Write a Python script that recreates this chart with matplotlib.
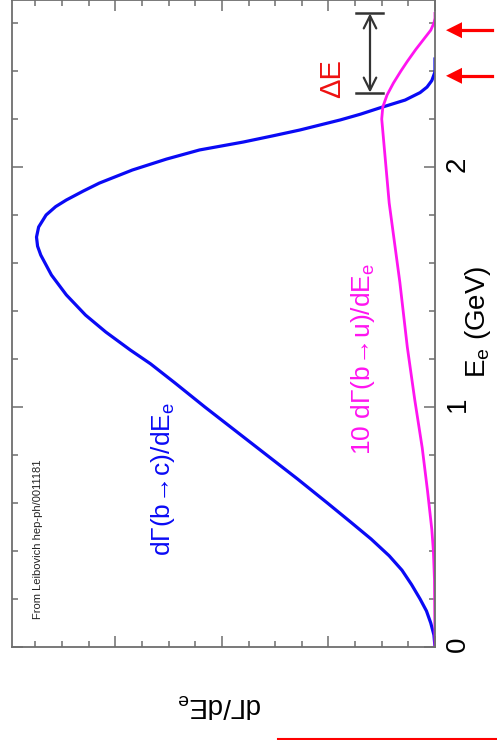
import matplotlib
matplotlib.use("Agg")
import matplotlib.pyplot as plt
from matplotlib.lines import Line2D
from matplotlib.patches import Polygon
from matplotlib.ticker import MultipleLocator, FixedLocator

plt.rcParams["font.family"] = ["Liberation Sans", "DejaVu Sans"]
plt.rcParams["mathtext.fontset"] = "custom"
plt.rcParams["mathtext.rm"] = "Liberation Sans"

# electron energy spectrum, b -> c
e_bc = [0.00, 0.05, 0.10, 0.15, 0.20, 0.26, 0.32, 0.38, 0.45, 0.52, 0.60, 0.70,
        0.80, 0.90, 1.00, 1.10, 1.18, 1.2375, 1.3125, 1.383, 1.467, 1.55, 1.633,
        1.67, 1.708, 1.75, 1.80, 1.835, 1.8625, 1.90, 1.933, 1.9875, 2.033, 2.071,
        2.104, 2.13, 2.154, 2.175, 2.196, 2.22, 2.246, 2.279, 2.31, 2.333, 2.36,
        2.396, 2.45]
rate_bc = [0.00, 0.01, 0.04, 0.08, 0.14, 0.22, 0.31, 0.43, 0.60, 0.79, 1.01, 1.29,
           1.58, 1.87, 2.16, 2.44, 2.67, 2.86, 3.09, 3.28, 3.46, 3.60, 3.70,
           3.73, 3.74, 3.72, 3.65, 3.56, 3.46, 3.30, 3.15, 2.84, 2.52, 2.21,
           1.80, 1.52, 1.27, 1.08, 0.89, 0.70, 0.52, 0.28, 0.14, 0.075, 0.03,
           0.0, 0.0]

# b -> u spectrum, scaled by 10
e_bu = [0.00, 0.28, 0.40, 0.49, 0.65, 0.83, 1.03, 1.25, 1.52, 1.85, 2.00, 2.10,
        2.20, 2.25, 2.30, 2.35, 2.40, 2.44, 2.49, 2.53, 2.57, 2.60, 2.62, 2.64]
rate_bu = [0.00, 0.005, 0.015, 0.03, 0.07, 0.12, 0.19, 0.26, 0.33, 0.43, 0.46, 0.48,
           0.50, 0.49, 0.45, 0.39, 0.32, 0.26, 0.18, 0.11, 0.04, 0.01, 0.0, 0.0]

e_ticks = [0, 1, 2]
e_tick_labels = ["0", "1", "2"]
delta_e = (2.31, 2.64)
endpoints = (2.57, 2.38)

W, H = 497, 740
fig = plt.figure(figsize=(W / 100, H / 100), dpi=100)
ax = fig.add_axes([12 / W, 93 / H, 423 / W, 647 / H])

ax.plot(rate_bc, e_bc, color="#0a0af5", lw=2.3, solid_joinstyle="round")
ax.plot(rate_bu, e_bu, color="#ff14f0", lw=2.0, solid_joinstyle="round")

ax.set_xlim(3.97, 0)
ax.set_ylim(0, 647 / 240)

for s in ax.spines.values():
    s.set_color("#6e6e6e")
    s.set_linewidth(1.3)

ax.yaxis.set_major_locator(FixedLocator(e_ticks))
ax.yaxis.set_minor_locator(MultipleLocator(0.2))
ax.xaxis.set_major_locator(MultipleLocator(1))
ax.xaxis.set_minor_locator(MultipleLocator(0.25))
ax.set_yticklabels(e_tick_labels)
ax.tick_params(axis="y", which="both", left=True, right=True, labelleft=False,
               labelright=True, direction="in", color="#6e6e6e")
ax.tick_params(axis="x", which="both", top=True, bottom=True, labelbottom=False,
               direction="in", color="#6e6e6e")
ax.tick_params(which="major", length=8, width=1.1)
ax.tick_params(which="minor", length=4, width=1.1)
ax.tick_params(axis="y", labelsize=20, labelrotation=90, pad=7)

# curve labels
ax.text(2.55, 0.70, "dΓ(b$\\!\\rightarrow\\!$c)/dE$_\\mathregular{e}$",
        color="#0a0af5", fontsize=19, rotation=90, ha="center", va="center")
ax.text(0.68, 1.20, "10 dΓ(b$\\!\\rightarrow\\!$u)/dE$_\\mathregular{e}$",
        color="#ff14f0", fontsize=19, rotation=90, ha="center", va="center")
ax.text(3.73, 0.45, "From Leibovich hep-ph/0011181", color="#222222",
        fontsize=8, rotation=90, ha="center", va="center")

# endpoint difference
ax.annotate("", xy=(0.61, delta_e[1]), xytext=(0.61, delta_e[0]),
            arrowprops=dict(arrowstyle="<->,head_length=0.9,head_width=0.45",
                            color="#333333", lw=1.6, shrinkA=0, shrinkB=0))
for e in delta_e:
    ax.plot([0.74, 0.49], [e, e], color="#333333", lw=1.8)
ax.text(0.97, 2.37, "ΔE", color="#ee1111", fontsize=21, rotation=90,
        ha="center", va="center")

# red arrows pointing at the two endpoints, drawn in figure pixels
for e in endpoints:
    y = ax.transData.transform((0, e))[1]
    fig.add_artist(Line2D([492 / W, 458 / W], [y / H, y / H], color="red",
                          lw=2.3, transform=fig.transFigure))
    fig.add_artist(Polygon([[446 / W, y / H], [462 / W, (y + 8) / H],
                            [462 / W, (y - 8) / H]], closed=True,
                           color="red", lw=0, transform=fig.transFigure))

fig.text(478 / W, 1 - 322 / H, "E$_\\mathregular{e}$ (GeV)", fontsize=20,
         rotation=90, ha="center", va="center")
fig.text(220 / W, 1 - 705 / H, "dΓ/dE$_\\mathregular{e}$", fontsize=20,
         rotation=180, ha="center", va="center")

fig.add_artist(Line2D([278 / W, 1.0], [1.5 / H, 1.5 / H], color="red", lw=1.5,
                      transform=fig.transFigure))

fig.savefig("out.png", dpi=100, facecolor="white")
